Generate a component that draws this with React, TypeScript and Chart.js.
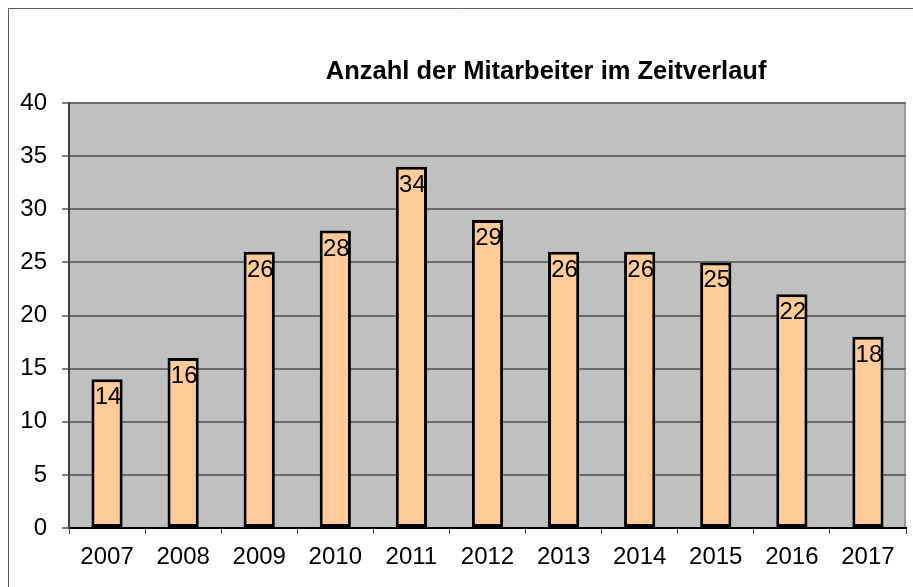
import React, { useEffect, useRef } from "react";
import { Chart, registerables } from "chart.js";

Chart.register(...registerables);

const categories = ["2007", "2008", "2009", "2010", "2011", "2012", "2013", "2014", "2015", "2016", "2017"];
const employees = [14, 16, 26, 28, 34, 29, 26, 26, 25, 22, 18];
const chartTitle = "Anzahl der Mitarbeiter im Zeitverlauf";
const yMin = 0;
const yMax = 40;
const yStep = 5;

const FONT = '"Liberation Sans", Arial, sans-serif';

const decorPlugin = {
  id: "decor",
  beforeDraw(chart: any) {
    const { ctx, chartArea } = chart;
    ctx.save();
    ctx.fillStyle = "#ffffff";
    ctx.fillRect(0, 0, chart.width, chart.height);
    // outer border (left + top)
    ctx.strokeStyle = "#5a5a5a";
    ctx.lineWidth = 1;
    ctx.beginPath();
    ctx.moveTo(8.5, chart.height);
    ctx.lineTo(8.5, 8.5);
    ctx.lineTo(chart.width, 8.5);
    ctx.stroke();
    // plot background
    ctx.fillStyle = "#c0c0c0";
    ctx.fillRect(chartArea.left, chartArea.top, chartArea.right - chartArea.left, chartArea.bottom - chartArea.top);
    ctx.strokeStyle = "#9a9a9a";
    ctx.lineWidth = 2;
    ctx.beginPath();
    ctx.moveTo(chartArea.right - 1, chartArea.top);
    ctx.lineTo(chartArea.right - 1, chartArea.bottom);
    ctx.stroke();
    // title
    ctx.fillStyle = "#000000";
    ctx.font = "bold 25.5px " + FONT;
    ctx.textAlign = "center";
    ctx.textBaseline = "alphabetic";
    const cx = chartArea.left + (chartArea.right - chartArea.left) * 0.57;
    ctx.fillText(chartTitle, cx, 79);
    ctx.restore();
  },
  afterDatasetsDraw(chart: any) {
    const { ctx } = chart;
    const meta = chart.getDatasetMeta(0);
    ctx.save();
    ctx.fillStyle = "#000000";
    ctx.font = "24px " + FONT;
    ctx.textAlign = "center";
    ctx.textBaseline = "alphabetic";
    meta.data.forEach((bar: any, i: number) => {
      ctx.fillText(String(employees[i]), bar.x + 1, bar.y + 25);
    });
    ctx.restore();
  },
};

export default function App() {
  const ref = useRef<HTMLCanvasElement>(null);
  useEffect(() => {
    if (!ref.current) return;
    const chart = new Chart(ref.current, {
      type: "bar",
      data: {
        labels: categories,
        datasets: [
          {
            data: employees,
            backgroundColor: "#ffcc99",
            borderColor: "#000000",
            borderWidth: 3,
            borderSkipped: false,
            categoryPercentage: 1,
            barPercentage: 0.41,
          },
        ],
      },
      options: {
        responsive: false,
        animation: false,
        layout: { padding: { top: 103, right: 7, left: 0, bottom: 0 } },
        plugins: { legend: { display: false }, title: { display: false }, tooltip: { enabled: false } },
        scales: {
          x: {
            grid: { display: true, drawOnChartArea: false, offset: true, tickLength: 6, tickColor: "#404040", tickWidth: 1 },
            border: { display: true, color: "#000000", width: 2 },
            ticks: { color: "#000000", font: { family: FONT, size: 24 }, padding: 9, maxRotation: 0 },
            afterFit(scale: any) {
              scale.height = 59;
            },
          },
          y: {
            min: yMin,
            max: yMax,
            grid: { color: "#6a6a6a", lineWidth: 2, tickLength: 7, tickColor: "#000000", tickWidth: 1 },
            border: { display: true, color: "#404040", width: 2 },
            ticks: { stepSize: yStep, color: "#000000", font: { family: FONT, size: 24 }, padding: 15 },
            afterFit(scale: any) {
              scale.width = 69;
            },
          },
        },
      },
      plugins: [decorPlugin],
    });
    return () => chart.destroy();
  }, []);
  return (
    <div style={{ position: "fixed", left: 0, top: 0, width: 913, height: 587 }}>
      <canvas ref={ref} width={913} height={587} />
    </div>
  );
}
